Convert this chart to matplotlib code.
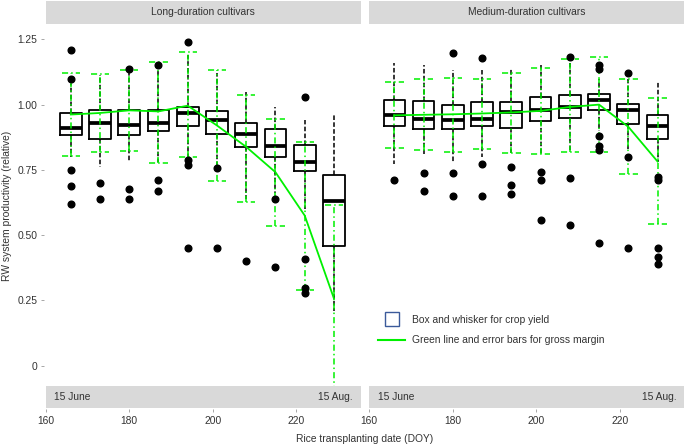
import matplotlib.pyplot as plt
from matplotlib.lines import Line2D

plt.rcParams['font.family'] = ['Liberation Sans', 'DejaVu Sans']

doy = [166, 173, 180, 187, 194, 201, 208, 215, 222, 229]
panel_titles = ["Long-duration cultivars", "Medium-duration cultivars"]
ytick_vals = [0, 0.25, 0.5, 0.75, 1.0, 1.25]
ytick_labels = ["0", "0.25", "0.50", "0.75", "1.00", "1.25"]
xtick_vals = [160, 180, 200, 220]

# long-duration: crop yield box stats
long_q1 = [0.883, 0.870, 0.883, 0.898, 0.918, 0.889, 0.838, 0.799, 0.744, 0.459]
long_med = [0.911, 0.930, 0.920, 0.930, 0.969, 0.940, 0.889, 0.841, 0.781, 0.631]
long_q3 = [0.969, 0.981, 0.981, 0.978, 0.990, 0.974, 0.930, 0.905, 0.845, 0.730]
long_lo = [0.80, 0.762, 0.78, 0.78, 0.80, 0.77, 0.64, 0.66, 0.60, 0.21]
long_hi = [1.08, 1.115, 1.12, 1.13, 1.19, 1.12, 1.048, 0.991, 0.94, 0.959]
long_fliers = [
    [1.208, 1.099, 0.749, 0.689, 0.621],
    [0.698, 0.639],
    [1.137, 0.678, 0.639],
    [1.15, 0.71, 0.669],
    [1.239, 0.787, 0.768, 0.449],
    [0.758, 0.449],
    [0.399],
    [0.639, 0.379],
    [1.029, 0.408, 0.298, 0.279],
    [],
]
# long-duration: gross margin
long_gm = [0.962, 0.968, 0.978, 0.974, 0.996, 0.92, 0.838, 0.741, 0.575, 0.257]
long_gm_hi = [1.12, 1.118, 1.134, 1.165, 1.20, 1.131, 1.037, 0.943, 0.856, 0.616]
long_gm_lo = [0.804, 0.817, 0.823, 0.777, 0.798, 0.708, 0.627, 0.536, 0.291, -0.10]

# medium-duration: crop yield box stats
med_q1 = [0.917, 0.908, 0.908, 0.918, 0.912, 0.937, 0.950, 0.978, 0.924, 0.868]
med_med = [0.959, 0.943, 0.940, 0.943, 0.972, 0.981, 0.989, 1.019, 0.981, 0.917]
med_q3 = [1.019, 1.014, 0.997, 1.009, 1.010, 1.029, 1.035, 1.042, 1.001, 0.959]
med_lo = [0.772, 0.81, 0.781, 0.80, 0.813, 0.806, 0.82, 0.90, 0.83, 0.78]
med_hi = [1.159, 1.15, 1.131, 1.131, 1.137, 1.15, 1.16, 1.10, 1.099, 1.086]
med_fliers = [
    [0.71],
    [0.739, 0.670],
    [1.198, 0.739, 0.649],
    [1.179, 0.771, 0.649],
    [0.760, 0.691, 0.659],
    [0.742, 0.711, 0.558],
    [1.182, 0.72, 0.539],
    [1.15, 1.137, 0.879, 0.841, 0.826, 0.469],
    [1.12, 0.80, 0.449],
    [0.724, 0.711, 0.449, 0.418, 0.389],
]
# medium-duration: gross margin
med_gm = [0.959, 0.961, 0.963, 0.966, 0.970, 0.976, 0.991, 1.0, 0.915, 0.782]
med_gm_hi = [1.087, 1.097, 1.103, 1.10, 1.12, 1.14, 1.174, 1.182, 1.097, 1.024]
med_gm_lo = [0.835, 0.826, 0.819, 0.829, 0.813, 0.809, 0.818, 0.817, 0.734, 0.543]

GREEN = '#00f000'
STRIP = '#d9d9d9'
TXT = '#333333'
XLIM = (160, 235.4)
YLIM = (-0.078, 1.305)
FS = 7.4
W, H = 685, 445


def px_rect(x0, y0, x1, y1):
    return [x0 / W, 1 - y1 / H, (x1 - x0) / W, (y1 - y0) / H]


def draw_panel(ax, q1, med, q3, lo, hi, fliers, gm, gm_lo, gm_hi):
    stats = []
    for i in range(len(doy)):
        stats.append(dict(q1=q1[i], med=med[i], q3=q3[i], whislo=lo[i],
                          whishi=hi[i], fliers=fliers[i]))
    ax.bxp(stats, positions=doy, widths=5.2, showcaps=False, manage_ticks=False,
           boxprops=dict(color='black', linewidth=1.3),
           medianprops=dict(color='black', linewidth=2.7),
           whiskerprops=dict(color='black', linewidth=1.1, linestyle=(0, (3, 1.5))),
           flierprops=dict(marker='o', markerfacecolor='black', markeredgecolor='black',
                           markersize=4.8, zorder=5))
    # gross margin error bars (dash-dot with dash-dot caps)
    dd = (0, (4, 2, 1, 2))
    ax.vlines(doy, gm_lo, gm_hi, colors=GREEN, linewidth=1.1, linestyles=[dd], zorder=3)
    cap_x0 = [d - 2.2 for d in doy]
    cap_x1 = [d + 2.2 for d in doy]
    ax.hlines(gm_hi, cap_x0, cap_x1, colors=GREEN, linewidth=1.1, linestyles=[dd], zorder=3)
    ax.hlines(gm_lo, cap_x0, cap_x1, colors=GREEN, linewidth=1.1, linestyles=[dd], zorder=3)
    ax.plot(doy, gm, color=GREEN, linewidth=1.3, zorder=4)

    ax.set_xlim(*XLIM)
    ax.set_ylim(*YLIM)
    for s in ax.spines.values():
        s.set_visible(False)
    ax.set_xticks([])
    ax.patch.set_alpha(0)


fig = plt.figure(figsize=(W / 100, H / 100), dpi=100)

panels = [(45.7, 360.7), (369.3, 684.3)]
data = [
    (long_q1, long_med, long_q3, long_lo, long_hi, long_fliers, long_gm, long_gm_lo, long_gm_hi),
    (med_q1, med_med, med_q3, med_lo, med_hi, med_fliers, med_gm, med_gm_lo, med_gm_hi),
]

axes = []
for k, (x0, x1) in enumerate(panels):
    ax = fig.add_axes(px_rect(x0, 25, x1, 386))
    draw_panel(ax, *data[k])
    if k == 0:
        ax.spines['left'].set_position(('outward', 1.5))
        ax.set_yticks(ytick_vals)
        ax.set_yticklabels(ytick_labels)
        ax.tick_params(axis='y', length=2.5, width=0.6, color='#999999',
                       labelsize=FS, labelcolor=TXT, pad=2)
    else:
        ax.set_yticks([])
    axes.append(ax)

    # top strip
    st = fig.add_axes(px_rect(x0, 0.5, x1, 23.5))
    st.set_facecolor(STRIP)
    st.set_xticks([])
    st.set_yticks([])
    for s in st.spines.values():
        s.set_visible(False)
    st.text(0.5, 0.5, panel_titles[k], ha='center', va='center', fontsize=FS,
            color=TXT, transform=st.transAxes)

    # bottom strip with x axis
    sb = fig.add_axes(px_rect(x0, 386, x1, 408))
    sb.set_facecolor(STRIP)
    sb.set_xlim(*XLIM)
    sb.set_yticks([])
    for s in sb.spines.values():
        s.set_visible(False)
    sb.spines['bottom'].set_position(('outward', 1))
    sb.set_xticks(xtick_vals)
    sb.tick_params(axis='x', length=2.5, width=0.6, color='#999999',
                   labelsize=FS, labelcolor=TXT, pad=2.5)
    sb.text(8.5 / 315, 0.5, "15 June", ha='left', va='center', fontsize=FS,
            color=TXT, transform=sb.transAxes)
    sb.text(1 - 8 / 315, 0.5, "15 Aug.", ha='right', va='center', fontsize=FS,
            color=TXT, transform=sb.transAxes)

handles = [
    Line2D([], [], linestyle='none', marker='s', markersize=9.5,
           markerfacecolor='white', markeredgecolor='#3b5a9a', markeredgewidth=1.0),
    Line2D([], [], color=GREEN, linewidth=1.5),
]
labels = ["Box and whisker for crop yield", "Green line and error bars for gross margin"]
fig.legend(handles, labels, loc='center left', bbox_to_anchor=(369 / W, 1 - 330 / H),
           frameon=False, fontsize=FS, handlelength=2.6, handletextpad=0.65,
           labelspacing=1.0, labelcolor=TXT)

fig.text(365 / W, 1 - 439 / H, "Rice transplanting date (DOY)", ha='center', va='center',
         fontsize=FS, color=TXT)
fig.text(7 / W, 1 - 205.5 / H, "RW system productivity (relative)", ha='center',
         va='center', rotation=90, fontsize=FS, color=TXT)

fig.savefig('out.png', dpi=100)
